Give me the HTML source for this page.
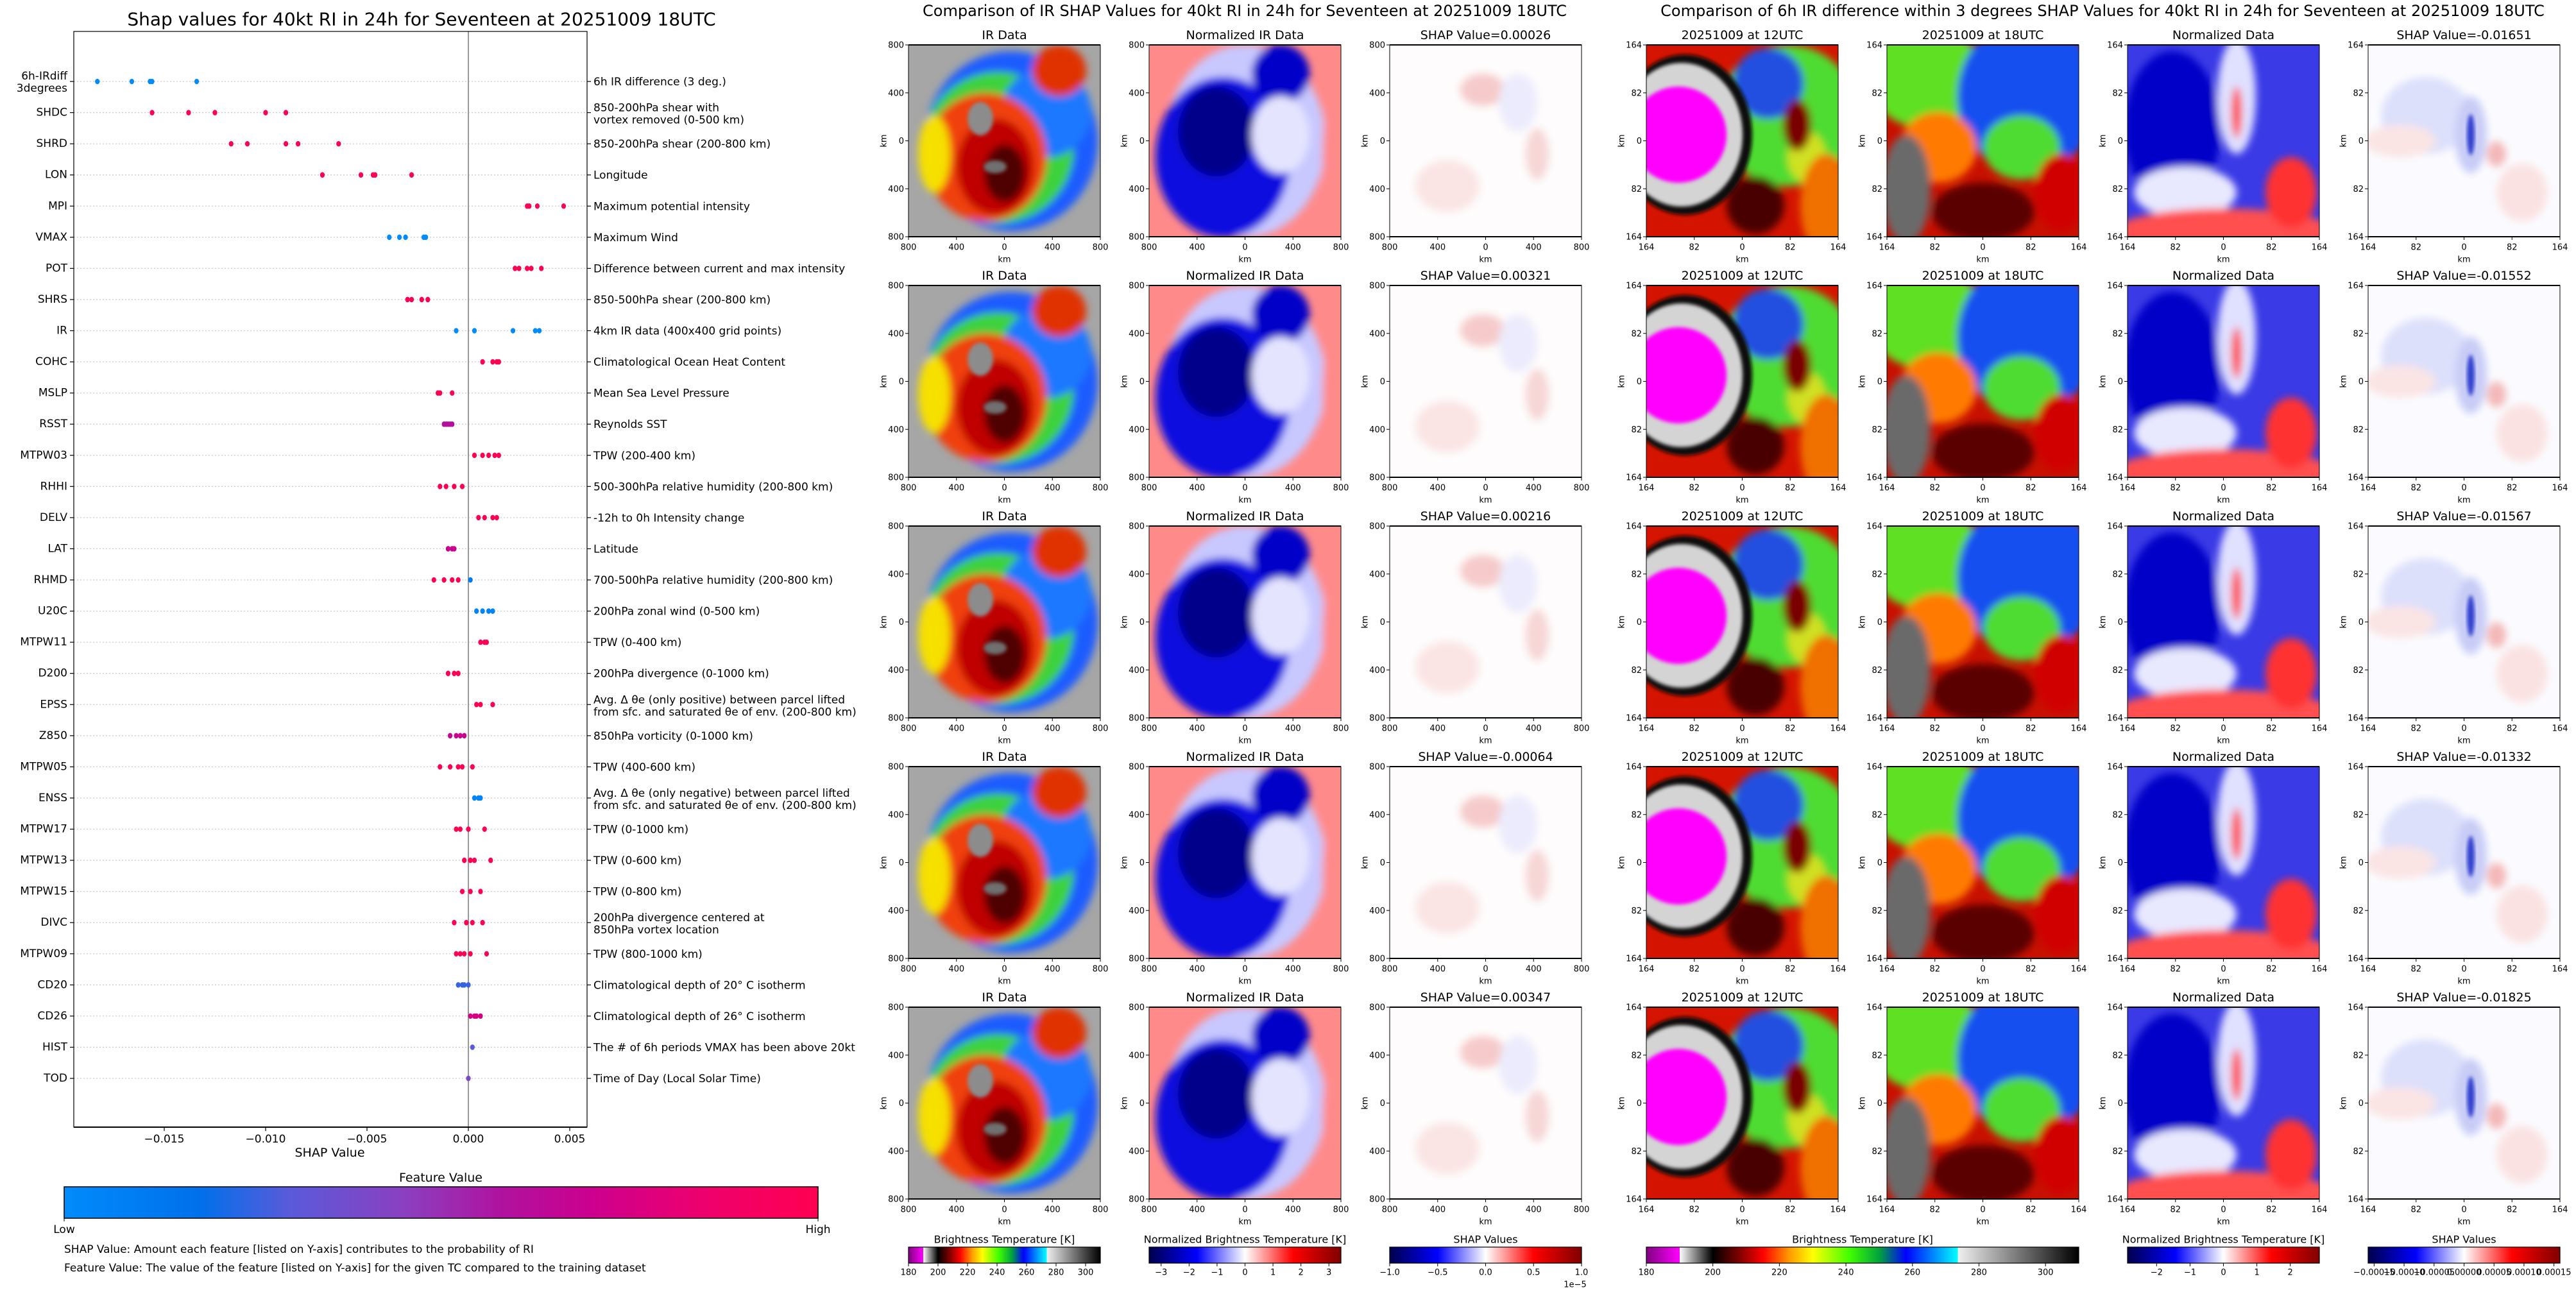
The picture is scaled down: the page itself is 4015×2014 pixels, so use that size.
<!DOCTYPE html>
<html><head><meta charset="utf-8"><style>
html,body{margin:0;padding:0;background:#fff;}
svg text{font-family:"DejaVu Sans","Liberation Sans",sans-serif;fill:#000;}
</style></head><body>
<svg id="root" xmlns="http://www.w3.org/2000/svg" width="4015" height="2009" viewBox="0 0 4015 2009">
<defs>
 <clipPath id="pc"><rect x="0" y="0" width="299" height="299"/></clipPath>
 <filter id="bl" x="-20%" y="-20%" width="140%" height="140%"><feGaussianBlur stdDeviation="6"/></filter>
 <filter id="bl2" x="-20%" y="-20%" width="140%" height="140%"><feGaussianBlur stdDeviation="3"/></filter>
 <linearGradient id="fvg" x1="0" x2="1" y1="0" y2="0">
  <stop offset="0" stop-color="#008bfb"/><stop offset="0.18" stop-color="#0070ea"/><stop offset="0.3" stop-color="#5a5ada"/>
  <stop offset="0.45" stop-color="#8a40c0"/><stop offset="0.58" stop-color="#b0129f"/><stop offset="0.7" stop-color="#cc008e"/>
  <stop offset="0.85" stop-color="#ee006c"/><stop offset="1" stop-color="#ff0052"/>
 </linearGradient>
 <linearGradient id="btg" x1="0" x2="1" y1="0" y2="0">
  <stop offset="0" stop-color="#800080"/><stop offset="0.0769" stop-color="#ff00ff"/><stop offset="0.0769" stop-color="#ffffff"/>
  <stop offset="0.1538" stop-color="#000000"/><stop offset="0.22" stop-color="#8b0000"/><stop offset="0.27" stop-color="#ff0000"/>
  <stop offset="0.33" stop-color="#ff9900"/><stop offset="0.385" stop-color="#ffff00"/><stop offset="0.47" stop-color="#40ff00"/>
  <stop offset="0.54" stop-color="#00a040"/><stop offset="0.6" stop-color="#0000ff"/><stop offset="0.72" stop-color="#00ffff"/>
  <stop offset="0.72" stop-color="#f0f0f0"/><stop offset="1" stop-color="#000000"/>
 </linearGradient>
 <linearGradient id="seis" x1="0" x2="1" y1="0" y2="0">
  <stop offset="0" stop-color="#00004c"/><stop offset="0.25" stop-color="#0000ff"/><stop offset="0.5" stop-color="#ffffff"/>
  <stop offset="0.75" stop-color="#ff0000"/><stop offset="1" stop-color="#800000"/>
 </linearGradient>
 <g id="img-ir">
  <rect width="299" height="299" fill="#a6a6a6"/>
  <g filter="url(#bl)">
   <ellipse cx="160" cy="150" rx="135" ry="140" fill="#1a5cff"/>
   <ellipse cx="140" cy="160" rx="118" ry="118" fill="#3cd23c"/>
   <ellipse cx="215" cy="105" rx="70" ry="70" fill="#1e78ff"/>
   <ellipse cx="120" cy="175" rx="95" ry="100" fill="#f04010"/>
   <ellipse cx="135" cy="190" rx="60" ry="75" fill="#c00000"/>
   <ellipse cx="150" cy="200" rx="32" ry="45" fill="#500000"/>
   <ellipse cx="235" cy="40" rx="42" ry="40" fill="#e03000"/>
   <ellipse cx="40" cy="170" rx="25" ry="60" fill="#f6e000"/>
  </g>
  <ellipse cx="112" cy="115" rx="20" ry="26" fill="#8c8c8c" filter="url(#bl2)"/>
  <ellipse cx="135" cy="190" rx="18" ry="10" fill="#707070" filter="url(#bl2)"/>
 </g>
 <g id="img-nir">
  <rect width="299" height="299" fill="#ff8a8a"/>
  <g filter="url(#bl)">
   <ellipse cx="150" cy="150" rx="125" ry="150" fill="#c8c8ff"/>
   <ellipse cx="115" cy="175" rx="105" ry="125" fill="#1010e0"/>
   <ellipse cx="105" cy="135" rx="60" ry="70" fill="#00008a"/>
   <ellipse cx="205" cy="45" rx="45" ry="45" fill="#0000c8"/>
   <ellipse cx="205" cy="140" rx="45" ry="60" fill="#e4e4ff"/>
   <ellipse cx="290" cy="180" rx="20" ry="120" fill="#ff8a8a"/>
  </g>
 </g>
 <g id="img-shap">
  <rect width="299" height="299" fill="#fefcfc"/>
  <g filter="url(#bl)">
   <ellipse cx="145" cy="70" rx="35" ry="25" fill="#f6caca"/>
   <ellipse cx="200" cy="90" rx="30" ry="45" fill="#ebebfd"/>
   <ellipse cx="230" cy="170" rx="18" ry="40" fill="#f7d6d6"/>
   <ellipse cx="90" cy="220" rx="50" ry="40" fill="#fbe4e4"/>
  </g>
 </g>
 <g id="img-t12">
  <rect width="299" height="299" fill="#d41400"/>
  <g filter="url(#bl)">
   <ellipse cx="220" cy="110" rx="110" ry="110" fill="#50dc30"/>
   <ellipse cx="190" cy="60" rx="55" ry="55" fill="#2050e0"/>
   <ellipse cx="250" cy="175" rx="30" ry="40" fill="#d0e020"/>
   <ellipse cx="280" cy="250" rx="40" ry="80" fill="#f07000"/>
   <ellipse cx="170" cy="250" rx="45" ry="45" fill="#4a0000"/>
   <ellipse cx="235" cy="125" rx="22" ry="40" fill="#7a0000"/>
  </g>
  <ellipse cx="60" cy="140" rx="105" ry="125" fill="#101010" filter="url(#bl2)"/>
  <ellipse cx="55" cy="140" rx="95" ry="112" fill="#d4d4d4" filter="url(#bl2)"/>
  <ellipse cx="50" cy="140" rx="75" ry="75" fill="#ff00ff" filter="url(#bl2)"/>
 </g>
 <g id="img-t18">
  <rect width="299" height="299" fill="#c81000"/>
  <g filter="url(#bl)">
   <ellipse cx="60" cy="50" rx="90" ry="80" fill="#60e020"/>
   <ellipse cx="220" cy="80" rx="110" ry="120" fill="#1850f0"/>
   <ellipse cx="210" cy="160" rx="60" ry="50" fill="#50dc30"/>
   <ellipse cx="80" cy="160" rx="60" ry="55" fill="#ff7a00"/>
   <ellipse cx="150" cy="260" rx="80" ry="45" fill="#5a0000"/>
   <ellipse cx="30" cy="225" rx="38" ry="85" fill="#6a6a6a"/>
   <ellipse cx="270" cy="230" rx="40" ry="60" fill="#d00000"/>
  </g>
 </g>
 <g id="img-nd">
  <rect width="299" height="299" fill="#3a3ae6"/>
  <g filter="url(#bl)">
   <ellipse cx="70" cy="130" rx="75" ry="120" fill="#0000c8"/>
   <ellipse cx="170" cy="80" rx="30" ry="90" fill="#e0e0ff"/>
   <ellipse cx="90" cy="230" rx="80" ry="40" fill="#e8e8ff"/>
   <ellipse cx="150" cy="290" rx="170" ry="35" fill="#ff5050"/>
   <ellipse cx="255" cy="230" rx="40" ry="55" fill="#ff3030"/>
   <ellipse cx="170" cy="105" rx="8" ry="40" fill="#ff4040"/>
  </g>
 </g>
 <g id="img-rs">
  <rect width="299" height="299" fill="#fbfbff"/>
  <g filter="url(#bl)">
   <ellipse cx="90" cy="110" rx="70" ry="60" fill="#dde0fb"/>
   <ellipse cx="160" cy="140" rx="25" ry="60" fill="#c8ccf6"/>
   <ellipse cx="50" cy="150" rx="55" ry="25" fill="#fbe4e4"/>
   <ellipse cx="240" cy="230" rx="40" ry="45" fill="#fbe2e2"/>
   <ellipse cx="200" cy="170" rx="15" ry="20" fill="#f4b8b8"/>
  </g>
  <ellipse cx="160" cy="140" rx="6" ry="32" fill="#3040d0" filter="url(#bl2)"/>
 </g>
</defs>
<g id="layer"></g>
</svg>
<script>
// ===== Beeswarm data =====
const features = ["6h-IRdiff\n3degrees","SHDC","SHRD","LON","MPI","VMAX","POT","SHRS","IR","COHC","MSLP","RSST","MTPW03","RHHI","DELV","LAT","RHMD","U20C","MTPW11","D200","EPSS","Z850","MTPW05","ENSS","MTPW17","MTPW13","MTPW15","DIVC","MTPW09","CD20","CD26","HIST","TOD"];
const descriptions = ["6h IR difference (3 deg.)","850-200hPa shear with\nvortex removed (0-500 km)","850-200hPa shear (200-800 km)","Longitude","Maximum potential intensity","Maximum Wind","Difference between current and max intensity","850-500hPa shear (200-800 km)","4km IR data (400x400 grid points)","Climatological Ocean Heat Content","Mean Sea Level Pressure","Reynolds SST","TPW (200-400 km)","500-300hPa relative humidity (200-800 km)","-12h to 0h Intensity change","Latitude","700-500hPa relative humidity (200-800 km)","200hPa zonal wind (0-500 km)","TPW (0-400 km)","200hPa divergence (0-1000 km)","Avg. Δ θe (only positive) between parcel lifted\nfrom sfc. and saturated θe of env. (200-800 km)","850hPa vorticity (0-1000 km)","TPW (400-600 km)","Avg. Δ θe (only negative) between parcel lifted\nfrom sfc. and saturated θe of env. (200-800 km)","TPW (0-1000 km)","TPW (0-600 km)","TPW (0-800 km)","200hPa divergence centered at\n850hPa vortex location","TPW (800-1000 km)","Climatological depth of 20° C isotherm","Climatological depth of 26° C isotherm","The # of 6h periods VMAX has been above 20kt","Time of Day (Local Solar Time)"];
const shapVals = [
 [-0.0183,-0.0166,-0.0157,-0.0156,-0.0134],
 [-0.0156,-0.0138,-0.0125,-0.0100,-0.0090],
 [-0.0117,-0.0109,-0.0090,-0.0084,-0.0064],
 [-0.0072,-0.0053,-0.0047,-0.0046,-0.0028],
 [0.0029,0.0030,0.0034,0.0047],
 [-0.0039,-0.0034,-0.0031,-0.0022,-0.0021],
 [0.0023,0.0025,0.0029,0.0031,0.0036],
 [-0.0030,-0.0028,-0.0023,-0.0020],
 [-0.0006,0.0003,0.0022,0.0033,0.0035],
 [0.0007,0.0012,0.0014,0.0015],
 [-0.0015,-0.0014,-0.0008],
 [-0.0012,-0.0011,-0.0010,-0.0009,-0.0008],
 [0.0003,0.0007,0.0010,0.0013,0.0015],
 [-0.0014,-0.0011,-0.0007,-0.0003],
 [0.0005,0.0008,0.0012,0.0014],
 [-0.0010,-0.0008,-0.0007],
 [-0.0017,-0.0012,-0.0008,-0.0005,0.0001],
 [0.0004,0.0007,0.0010,0.0012],
 [0.0006,0.0008,0.0009],
 [-0.0010,-0.0007,-0.0005],
 [0.0004,0.0006,0.0012],
 [-0.0009,-0.0006,-0.0004,-0.0002],
 [-0.0014,-0.0009,-0.0005,-0.0003,0.0002],
 [0.0003,0.0005,0.0006],
 [-0.0006,-0.0004,0.0000,0.0008],
 [-0.0002,0.0001,0.0003,0.0011],
 [-0.0003,0.0001,0.0006],
 [-0.0007,-0.0001,0.0002,0.0007],
 [-0.0006,-0.0004,-0.0002,0.0001,0.0009],
 [-0.0005,-0.0003,-0.0002,0.0000],
 [0.0001,0.0003,0.0004,0.0006],
 [0.0002],
 [0.0000]
];
const featVals = [
 [0,0,0,0,0],[1,1,1,1,1],[1,1,1,1,1],[1,1,1,1,1],[1,1,1,1],[0,0,0,0,0],[1,1,1,1,1],[1,1,1,1],
 [0,0,0,0,0],[1,1,1,1],[1,1,1],[0.6,0.6,0.6,0.6,0.6],[1,1,1,1,1],[1,1,1,1],[1,1,1,1],[0.7,0.7,0.7],
 [1,1,1,1,0.1],[0.05,0.05,0.05,0.05],[1,1,1],[1,1,1],[1,1,1],[0.7,0.7,0.7,0.7],[1,1,1,1,1],[0.05,0.05,0.05],
 [1,1,1,1],[1,1,1,1],[1,1,1],[1,1,1,1],[1,1,1,1,1],[0.25,0.25,0.25,0.25],[0.75,0.75,0.75,0.75],[0.3],[0.4]
];
const xTicks = [-0.015,-0.010,-0.005,0.000,0.005];

const NS="http://www.w3.org/2000/svg";
const L=document.getElementById('layer');
function mk(tag,attrs,parent){const e=document.createElementNS(NS,tag);for(const k in attrs)e.setAttribute(k,attrs[k]);(parent||L).appendChild(e);return e;}
function txt(s,x,y,size,anchor,parent){const t=mk('text',{x:x,y:y,'font-size':size,'text-anchor':anchor||'middle','dominant-baseline':'central'},parent);t.textContent=s;return t;}

// axes
const AX={l:115,r:915,t:49,b:1757,zero:730,per:158};
const xS=v=>AX.zero+v/0.005*AX.per;
const yS=i=>127+i*(1681-127)/(features.length-1);
function cmap(f){const st=[[0,[0,139,251]],[0.18,[0,112,234]],[0.3,[90,90,218]],[0.45,[138,64,192]],[0.58,[176,18,159]],[0.7,[204,0,142]],[0.85,[238,0,108]],[1,[255,0,82]]];
 for(let i=1;i<st.length;i++){if(f<=st[i][0]){const a=st[i-1],b=st[i],t=(f-a[0])/(b[0]-a[0]);return 'rgb('+a[1].map((c,k)=>Math.round(c+(b[1][k]-c)*t)).join(',')+')';}}return 'rgb(255,0,82)';}

let t=txt("Shap values for 40kt RI in 24h for Seventeen at 20251009 18UTC",657,30,28);


const plot=mk('g',{});


features.forEach((f,i)=>{
 const y=yS(i);
 const g=mk('line',{x1:AX.l,x2:AX.r,y1:y,y2:y,stroke:'#cccccc','stroke-width':1.3,'stroke-dasharray':'2,3'},plot);
 
 
 mk('line',{x1:AX.l-6,x2:AX.l,y1:y,y2:y,stroke:'#000','stroke-width':1.2},plot);
 mk('line',{x1:AX.r,x2:AX.r+6,y1:y,y2:y,stroke:'#000','stroke-width':1.2},plot);
 const lines=f.split('\n');
 lines.forEach((s,k)=>{const tt=txt(s,AX.l-10,lines.length>1?y-8+k*19:y,17,'end',plot);
  
  });
 const dl=descriptions[i].split('\n');
 dl.forEach((s,k)=>{const tt=txt(s,AX.r+10,dl.length>1?y-7+k*19:y+1,17,'start',plot);
  
  });
});
const zl=mk('line',{x1:AX.zero,x2:AX.zero,y1:AX.t,y2:AX.b,stroke:'#999','stroke-width':2},plot);


features.forEach((f,i)=>{
 shapVals[i].forEach((v,k)=>{
  const d=mk('ellipse',{cx:xS(v),cy:yS(i),rx:3.6,ry:4.3,fill:cmap(featVals[i][k])},plot);
  
  
 });
});
const fr=mk('rect',{x:AX.l,y:AX.t,width:AX.r-AX.l,height:AX.b-AX.t,fill:'none',stroke:'#000','stroke-width':1.2},plot);


mk('line',{x1:AX.l,x2:AX.r,y1:AX.b,y2:AX.b,stroke:'#000','stroke-width':2},plot);
xTicks.forEach(v=>{const x=xS(v);mk('line',{x1:x,x2:x,y1:AX.b,y2:AX.b+6,stroke:'#000','stroke-width':1.2},plot);
 const tt=txt((v<0?'\u2212':'')+Math.abs(v).toFixed(3),x,AX.b+19,17,'middle',plot);
 
 });
t=txt("SHAP Value",514,1797,19);


t=txt("Feature Value",687,1836,19);


let r=mk('rect',{x:100,y:1850,width:1175,height:49,fill:'url(#fvg)',stroke:'#000','stroke-width':1.5});


mk('line',{x1:100,x2:100,y1:1899,y2:1904,stroke:'#000'});mk('line',{x1:1275,x2:1275,y1:1899,y2:1904,stroke:'#000'});
t=txt("Low",100,1917,17);
t=txt("High",1275,1917,17);
t=txt("SHAP Value: Amount each feature [listed on Y-axis] contributes to the probability of RI",100,1948,17,'start');

t=txt("Feature Value: The value of the feature [listed on Y-axis] for the given TC compared to the training dataset",100,1977,17,'start');


// ===== Panels =====
const centerTitles=["IR Data","Normalized IR Data","SHAP Value="];
const centerShap=["0.00026","0.00321","0.00216","-0.00064","0.00347"];
const rightShap=["-0.01651","-0.01552","-0.01567","-0.01332","-0.01825"];
const irTicks=["800","400","0","400","800"];
const kmTicks=["164","82","0","82","164"];
const PW=299, rowTop=70, rowPitch=375;
function panel(x,y,img,title,ticks){
 const g=mk('g',{});
 
 
 const inner=mk('g',{transform:'translate('+x+','+y+')','clip-path':'url(#pc)'},g);
 mk('use',{href:'#'+img},inner);
 mk('rect',{x:x,y:y,width:PW,height:PW,fill:'none',stroke:'#000','stroke-width':1},g);
 mk('line',{x1:x,x2:x+PW,y1:y,y2:y,stroke:'#000','stroke-width':2},g);
 mk('line',{x1:x,x2:x+PW,y1:y+PW,y2:y+PW,stroke:'#000','stroke-width':2},g);
 const tt=txt(title,x+PW/2,y-15,19,'middle',g);
 
 
 ticks.forEach((s,k)=>{const p=k*PW/4;
  mk('line',{x1:x+p,x2:x+p,y1:y+PW,y2:y+PW+5,stroke:'#000'},g);
  txt(s,x+p,y+PW+17,13,'middle',g);
  mk('line',{x1:x-5,x2:x,y1:y+p,y2:y+p,stroke:'#000'},g);
  txt(s,x-7,y+p+1,13,'end',g);});
 txt('km',x+PW/2,y+PW+36,13,'middle',g);
 const yl=txt('km',x-38,y+PW/2,13,'middle',g);
 yl.setAttribute('transform','rotate(-90 '+(x-38)+' '+(y+PW/2)+')');
}
t=txt("Comparison of IR SHAP Values for 40kt RI in 24h for Seventeen at 20251009 18UTC",1940,17,24);

t=txt("Comparison of 6h IR difference within 3 degrees SHAP Values for 40kt RI in 24h for Seventeen at 20251009 18UTC",3277,17,24);

const cX=[1416,1791,2166], rX=[2566,2941,3316,3691];
for(let rI=0;rI<5;rI++){
 const y=rowTop+rI*rowPitch;
 panel(cX[0],y,'img-ir','IR Data',irTicks);
 panel(cX[1],y,'img-nir','Normalized IR Data',irTicks);
 panel(cX[2],y,'img-shap','SHAP Value='+centerShap[rI],irTicks);
 panel(rX[0],y,'img-t12','20251009 at 12UTC',kmTicks);
 panel(rX[1],y,'img-t18','20251009 at 18UTC',kmTicks);
 panel(rX[2],y,'img-nd','Normalized Data',kmTicks);
 panel(rX[3],y,'img-rs','SHAP Value='+rightShap[rI],kmTicks);
}
// colorbars
const btTicks=[180,200,220,240,260,280,300];
const nTicksC=[-3,-2,-1,0,1,2,3];
const sTicksC=[-1.0,-0.5,0.0,0.5,1.0];
const nTicksR=[-2,-1,0,1,2];
const sTicksR=[-0.00015,-0.00010,-0.00005,0.00000,0.00005,0.00010,0.00015];
function cbar(x,w,grad,title,ticks,lo,hi,fmt){
 const g=mk('g',{});
 
 
 const tt=txt(title,x+w/2,1932,16,'middle',g);
 
 
 mk('rect',{x:x,y:1944,width:w,height:25,fill:'url(#'+grad+')',stroke:'#000','stroke-width':1.2},g);
 ticks.forEach(v=>{const px=x+(v-lo)/(hi-lo)*w;
  mk('line',{x1:px,x2:px,y1:1969,y2:1974,stroke:'#000'},g);
  txt(fmt(v),px,1984,13,'middle',g);});
}
const mn=s=>s.replace('-','\u2212');
cbar(1416,299,'btg','Brightness Temperature [K]',btTicks,180,310,v=>String(v));
cbar(1791,299,'seis','Normalized Brightness Temperature [K]',nTicksC,-3.43,3.43,v=>mn(String(v)));
cbar(2166,299,'seis','SHAP Values',sTicksC,-1,1,v=>mn(v.toFixed(1)));
t=txt("1e\u22125",2455,2003,13,'middle');
cbar(2566,674,'btg','Brightness Temperature [K]',btTicks,180,310,v=>String(v));
cbar(3316,299,'seis','Normalized Brightness Temperature [K]',nTicksR,-2.87,2.87,v=>mn(String(v)));
cbar(3691,299,'seis','SHAP Values',sTicksR,-0.00016,0.00016,v=>mn(v.toFixed(5)));
</script>
</body></html>
